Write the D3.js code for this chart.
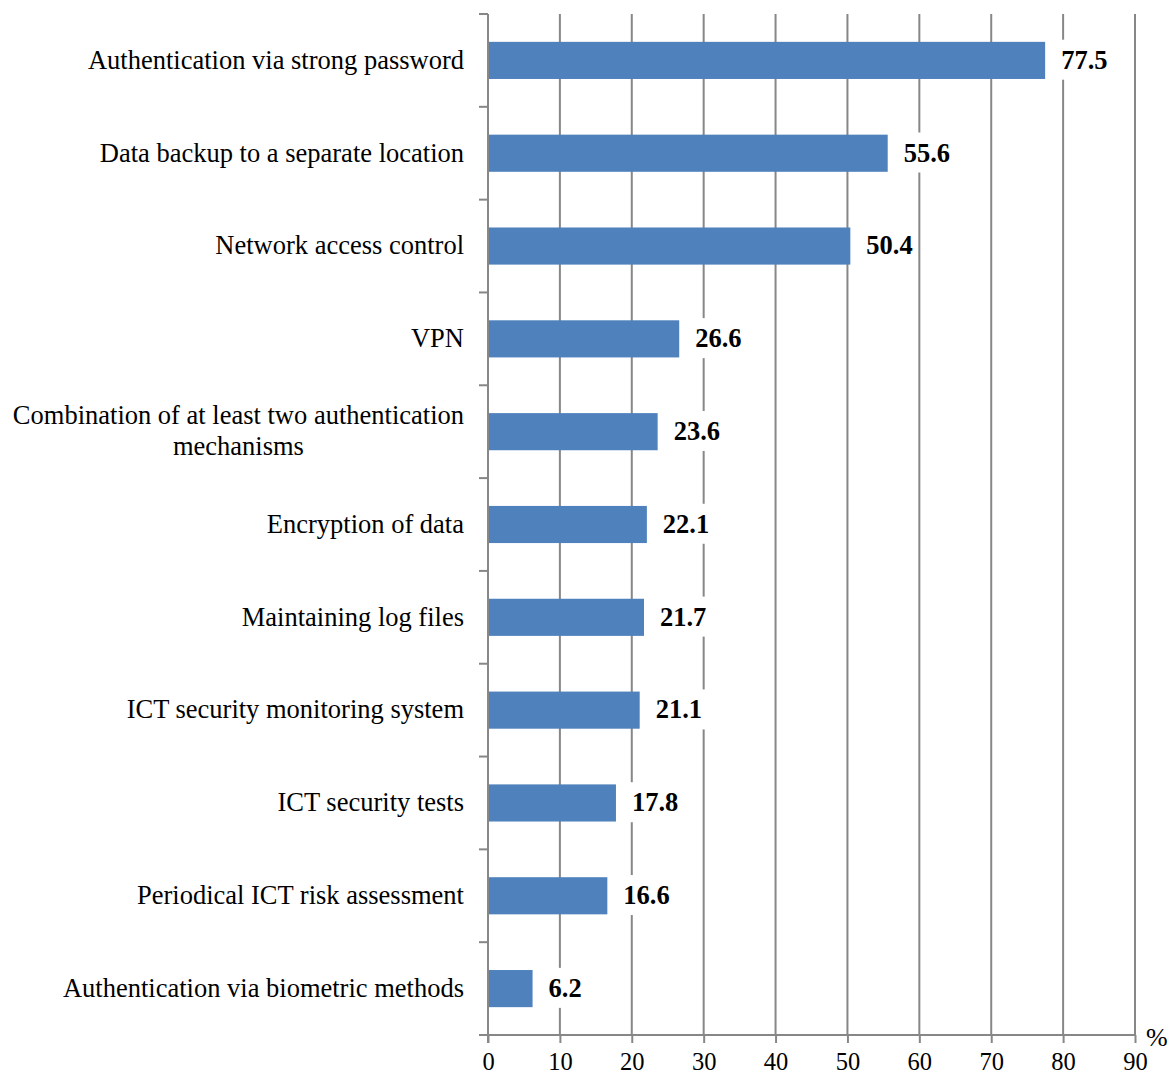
<!DOCTYPE html>
<html>
<head>
<meta charset="utf-8">
<script src="https://d3js.org/d3.v7.min.js"></script>
<style>
  body { margin: 0; background: #fff; }
  svg text { font-family: "Liberation Serif", "Times New Roman", serif; fill: #000; }
</style>
</head>
<body>
<svg width="1171" height="1077"></svg>
<script>
var categories = [
  "Authentication via strong password",
  "Data backup to a separate location",
  "Network access control",
  "VPN",
  "Combination of at least two authentication|mechanisms",
  "Encryption of data",
  "Maintaining log files",
  "ICT security monitoring system",
  "ICT security tests",
  "Periodical ICT risk assessment",
  "Authentication via biometric methods"
];
var values = [77.5, 55.6, 50.4, 26.6, 23.6, 22.1, 21.7, 21.1, 17.8, 16.6, 6.2];
var xTicks = [0, 10, 20, 30, 40, 50, 60, 70, 80, 90];

var plotLeft = 488, plotRight = 1135, plotTop = 14, plotBottom = 1035;
var axisColor = "#878787";

var svg = d3.select("svg");

var x = d3.scaleLinear().domain([0, 90]).range([plotLeft, plotRight]);
var y = d3.scaleBand().domain(d3.range(categories.length)).range([plotTop, plotBottom]).paddingInner(0.6).paddingOuter(0.3);
var yb = d3.scaleBand().domain(d3.range(categories.length)).range([plotTop, plotBottom]);

// vertical gridlines
svg.append("g").selectAll("line")
  .data(xTicks.slice(1))
  .enter().append("line")
  .attr("x1", d => x(d)).attr("x2", d => x(d))
  .attr("y1", plotTop).attr("y2", plotBottom)
  .attr("stroke", axisColor).attr("stroke-width", 2);

// bars
svg.append("g").selectAll("rect")
  .data(values)
  .enter().append("rect")
  .attr("x", x(0))
  .attr("y", (d, i) => y(i))
  .attr("width", d => x(d) - x(0))
  .attr("height", y.bandwidth())
  .attr("fill", "#4f81bd");

// value labels with white backdrop
var lab = svg.append("g").selectAll("g")
  .data(values)
  .enter().append("g");
lab.append("text")
  .attr("x", d => x(d) + 16)
  .attr("y", (d, i) => y(i) + y.bandwidth() / 2 - 1)
  .attr("dy", "0.35em")
  .style("font-size", "26.5px")
  .style("font-weight", "bold")
  .text(d => d.toFixed(1));
lab.each(function() {
  var t = d3.select(this).select("text");
  var b = t.node().getBBox();
  d3.select(this).insert("rect", "text")
    .attr("x", b.x - 4).attr("y", b.y - 5)
    .attr("width", b.width + 8).attr("height", b.height + 10)
    .attr("fill", "#fff");
});

// left axis with ticks at band boundaries
svg.append("line")
  .attr("x1", plotLeft).attr("x2", plotLeft).attr("y1", plotTop).attr("y2", plotBottom + 8)
  .attr("stroke", axisColor).attr("stroke-width", 2);
svg.append("g").selectAll("line")
  .data(d3.range(categories.length + 1))
  .enter().append("line")
  .attr("x1", plotLeft - 9).attr("x2", plotLeft)
  .attr("y1", d => d < categories.length ? yb(d) : plotBottom)
  .attr("y2", d => d < categories.length ? yb(d) : plotBottom)
  .attr("stroke", axisColor).attr("stroke-width", 2);

// bottom axis
var xAxis = d3.axisBottom(x).tickValues(xTicks).tickSize(8).tickPadding(10);
var gx = svg.append("g")
  .attr("transform", "translate(0," + plotBottom + ")")
  .call(xAxis);
gx.select(".domain").attr("stroke", axisColor).attr("stroke-width", 2).attr("d", "M" + (plotLeft - 9) + ",0H" + plotRight);
gx.selectAll(".tick line").attr("stroke", axisColor).attr("stroke-width", 2);
gx.selectAll(".tick text")
  .style("font-family", '"Liberation Serif", serif')
  .style("font-size", "24.5px").attr("fill", "#000");

svg.append("text")
  .attr("x", 1146).attr("y", 1046)
  .style("font-size", "26px")
  .text("%");

// category labels
var labelRight = 464;
categories.forEach(function(c, i) {
  var lines = c.split("|");
  var cy = yb(i) + yb.bandwidth() / 2 - 1;
  var g = svg.append("g");
  var texts = lines.map(function(l, k) {
    return g.append("text")
      .attr("y", cy + (k - (lines.length - 1) / 2) * 31)
      .attr("dy", "0.35em")
      .style("font-size", "26.5px")
      .text(l);
  });
  var w = d3.max(texts, t => t.node().getComputedTextLength());
  texts.forEach(t => t.attr("x", labelRight - w / 2).attr("text-anchor", "middle"));
});
</script>
</body>
</html>
